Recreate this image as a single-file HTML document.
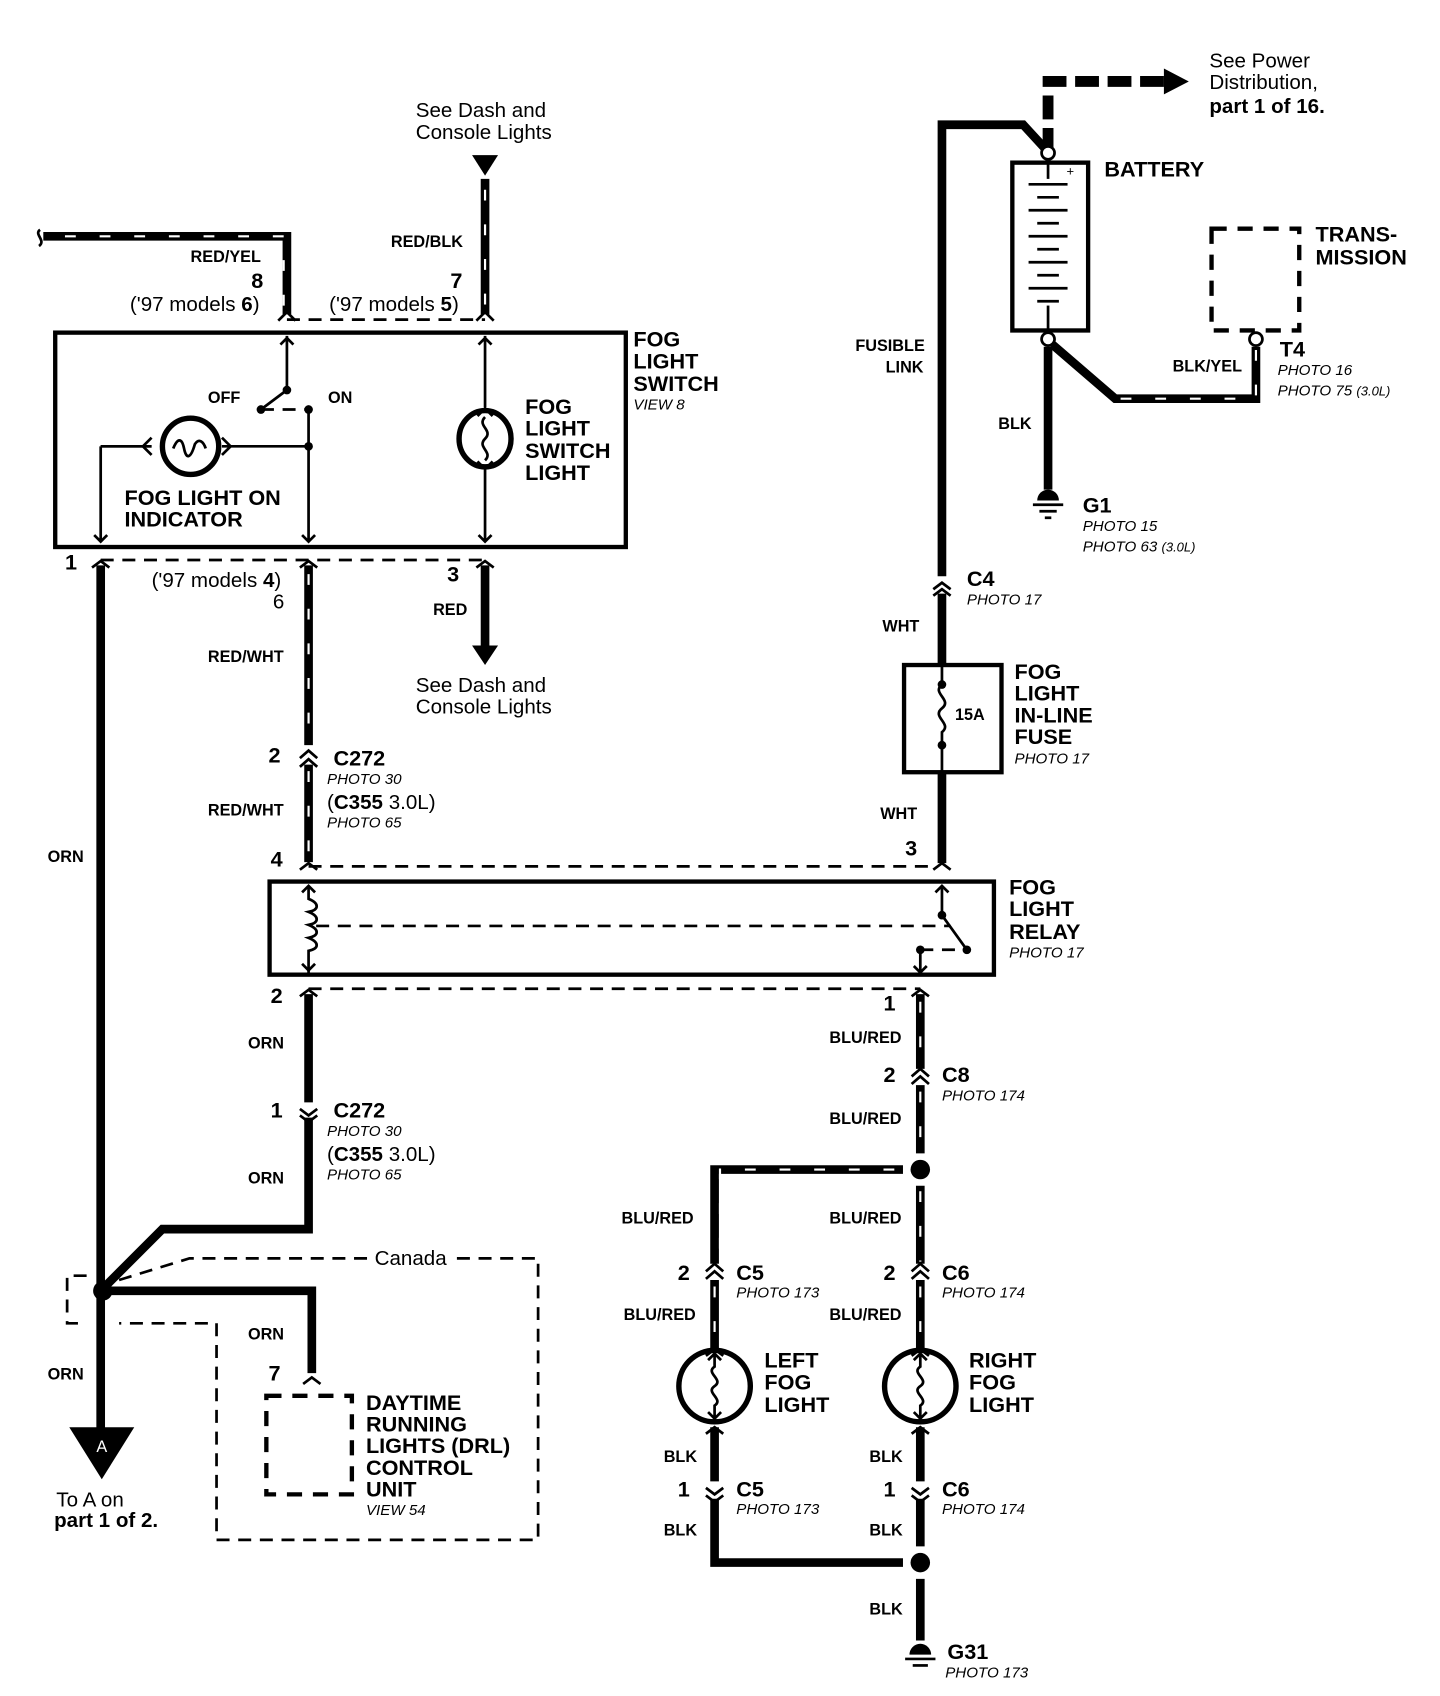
<!DOCTYPE html>
<html><head><meta charset="utf-8"><style>
html,body{margin:0;padding:0;background:#fff}
svg{display:block}
text{font-family:"Liberation Sans",sans-serif;fill:#000}
.b{font-weight:bold;font-size:15px}
.L{font-weight:bold;font-size:20px}
.p{font-style:italic;font-size:14px}
.r{font-size:19px}
.w{stroke:#000;stroke-width:8;fill:none}
.s{stroke:#fff;stroke-width:2;fill:none;stroke-dasharray:10 22}
.t{stroke:#000;stroke-width:2.5;fill:none}
.d{stroke:#000;stroke-width:2.5;fill:none;stroke-dasharray:12 8}
.bx{stroke:#000;stroke-width:4;fill:none}
</style></head><body>
<svg width="1440" height="1696" viewBox="0 0 1330 1566" xmlns="http://www.w3.org/2000/svg">
<!-- top right power arrow -->
<path d="M968 140 V75 H1075" stroke="#000" stroke-width="10" fill="none" stroke-dasharray="22 8"/>
<polygon points="1075,63 1098,75 1075,87" fill="#000"/>
<text x="1117" y="62" class="r">See Power</text>
<text x="1117" y="82" class="r">Distribution,</text>
<text x="1117" y="104" class="r" font-weight="bold">part 1 of 16.</text>
<!-- BLK fusible link wire -->
<path d="M870 532 V115 H945 L968 140" class="w"/>
<circle cx="968" cy="141" r="6" fill="#fff" stroke="#000" stroke-width="2.5"/>
<text x="790" y="324" class="b" font-size="14">FUSIBLE</text>
<text x="818" y="344" class="b" font-size="14">LINK</text>
<!-- battery -->
<rect x="935" y="150" width="70" height="155" class="bx"/>
<g class="t">
<line x1="968" y1="150" x2="968" y2="165"/>
<line x1="950" y1="170" x2="986" y2="170"/><line x1="958" y1="182" x2="978" y2="182"/>
<line x1="950" y1="194" x2="986" y2="194"/><line x1="958" y1="206" x2="978" y2="206"/>
<line x1="950" y1="218" x2="986" y2="218"/><line x1="958" y1="230" x2="978" y2="230"/>
<line x1="950" y1="242" x2="986" y2="242"/><line x1="958" y1="254" x2="978" y2="254"/>
<line x1="950" y1="266" x2="986" y2="266"/><line x1="958" y1="278" x2="978" y2="278"/>
<line x1="968" y1="282" x2="968" y2="305"/>
</g>
<text x="985" y="162" font-size="12">+</text>
<text x="1020" y="163" class="L" font-size="19">BATTERY</text>
<circle cx="968" cy="313" r="6" fill="#fff" stroke="#000" stroke-width="2.5"/>
<path d="M968 320 V452" class="w"/>
<text x="922" y="396" class="b">BLK</text>
<path d="M958 462 a10 10 0 0 1 20 0 z" fill="#000"/>
<line x1="954" y1="466" x2="982" y2="466" class="t"/>
<line x1="960" y1="472" x2="976" y2="472" class="t"/>
<line x1="965" y1="478" x2="971" y2="478" class="t"/>
<text x="1000" y="473" class="L" font-size="18">G1</text>
<text x="1000" y="490" class="p">PHOTO 15</text>
<text x="1000" y="509" class="p">PHOTO 63 <tspan font-size="12">(3.0L)</tspan></text>
<path d="M972 318 L1030 368 H1160 V320" class="w"/>
<path d="M1035 368 H1160 V320" class="s"/>
<circle cx="1160" cy="313" r="6" fill="#fff" stroke="#000" stroke-width="2.5"/>
<text x="1083" y="343" class="b">BLK/YEL</text>
<text x="1182" y="329" class="L" font-size="18">T4</text>
<text x="1180" y="346" class="p">PHOTO 16</text>
<text x="1180" y="365" class="p">PHOTO 75 <tspan font-size="12">(3.0L)</tspan></text>
<rect x="1119" y="211" width="81" height="94" stroke="#000" stroke-width="4" fill="none" stroke-dasharray="14 10"/>
<text x="1215" y="223" class="L" font-size="19">TRANS-</text>
<text x="1215" y="244" class="L" font-size="19">MISSION</text>
<!-- C4, fuse -->
<path d="M862 544 l8 -6 l8 6 M862 550 l8 -6 l8 6" class="t"/>
<path d="M870 548 V614" class="w"/>
<text x="893" y="541" class="L" font-size="18">C4</text>
<text x="893" y="558" class="p">PHOTO 17</text>
<text x="815" y="583" class="b">WHT</text>
<rect x="835" y="614" width="90" height="99" class="bx"/>
<path d="M870 614 V632 c-10 8 10 14 0 22 c-10 8 10 14 0 22 V713" class="t"/>
<circle cx="870" cy="632" r="4"/><circle cx="870" cy="688" r="4"/>
<text x="882" y="665" class="b" font-size="13">15A</text>
<text x="937" y="627" class="L" font-size="19">FOG</text>
<text x="937" y="647" class="L" font-size="19">LIGHT</text>
<text x="937" y="667" class="L" font-size="19">IN-LINE</text>
<text x="937" y="687" class="L" font-size="19">FUSE</text>
<text x="937" y="705" class="p">PHOTO 17</text>
<path d="M870 713 V797" class="w"/>
<text x="813" y="756" class="b">WHT</text>
<text x="836" y="790" class="L" font-size="18">3</text>
<path d="M862 803 l8 -6 l8 6" class="t"/>
<!-- relay -->
<line x1="285" y1="800" x2="862" y2="800" class="d"/>
<rect x="249" y="814" width="669" height="86" class="bx"/>
<path d="M285 818 V830 c10 4 10 10 0 12 c10 4 10 10 0 12 c10 4 10 10 0 12 c10 4 10 10 0 12 V898" class="t"/>
<path d="M279 824 l6 -6 l6 6 M279 890 l6 6 l6 -6" class="t"/>
<line x1="292" y1="855" x2="878" y2="855" class="d"/>
<path d="M870 818 V845 L893 877" class="t"/><path d="M864 824 l6 -6 l6 6 M844 892 l6 6 l6 -6" class="t"/>
<circle cx="870" cy="845" r="4"/><circle cx="893" cy="877" r="4"/><circle cx="850" cy="877" r="4"/>
<path d="M850 877 H890" class="d"/><line x1="850" y1="877" x2="850" y2="898" class="t"/>
<text x="932" y="826" class="L" font-size="19">FOG</text>
<text x="932" y="846" class="L" font-size="19">LIGHT</text>
<text x="932" y="867" class="L" font-size="19">RELAY</text>
<text x="932" y="884" class="p">PHOTO 17</text>
<line x1="285" y1="913" x2="850" y2="913" class="d"/>
<!-- fog switch -->
<rect x="51" y="307" width="527" height="198" class="bx"/>
<line x1="265" y1="295" x2="448" y2="295" class="d"/>
<line x1="93" y1="517" x2="448" y2="517" class="d"/>
<path d="M40 218 H265 V290" class="w"/><path d="M60 218 H262 V288" class="s"/>
<path d="M37 212 c-6 4 6 10 -1 15" class="t"/>
<path d="M257 296 l8 -8 l8 8" class="t"/>
<text x="176" y="242" class="b">RED/YEL</text>
<text x="232" y="266" class="L" font-size="17">8</text>
<text x="120" y="287" class="r">('97 models <tspan font-weight="bold">6</tspan>)</text>
<polygon points="436,143 460,143 448,162" fill="#000"/>
<path d="M448 165 V290" class="w"/><path d="M448 175 V288" class="s"/>
<path d="M440 296 l8 -8 l8 8" class="t"/>
<text x="384" y="108" class="r">See Dash and</text>
<text x="384" y="128" class="r">Console Lights</text>
<text x="361" y="228" class="b">RED/BLK</text>
<text x="416" y="266" class="L" font-size="17">7</text>
<text x="304" y="287" class="r">('97 models <tspan font-weight="bold">5</tspan>)</text>
<!-- inside switch -->
<path d="M265 310 V360 L241 378" class="t"/><path d="M259 318 l6 -6 l6 6" class="t"/>
<circle cx="265" cy="360" r="4"/><circle cx="241" cy="378" r="4"/><circle cx="285" cy="378" r="4"/>
<path d="M241 378 H285" class="d"/>
<path d="M285 378 V500 M279 494 l6 6 l6 -6" class="t"/>
<circle cx="285" cy="412" r="4"/>
<text x="192" y="372" class="b">OFF</text><text x="303" y="372" class="b">ON</text>
<path d="M285 412 H205 M93 412 H140 V412 M93 412 V500 M87 494 l6 6 l6 -6" class="t"/>
<path d="M93 412 H140 M140 404 l-8 8 l8 8 M205 404 l8 8 l-8 8" class="t"/>
<circle cx="176" cy="412" r="26" fill="none" stroke="#000" stroke-width="5"/>
<path d="M160 414 c4 -10 8 -10 10 0 c2 10 6 10 10 -4 c4 -6 8 -2 10 4" class="t"/>
<text x="115" y="466" class="L" font-size="19">FOG LIGHT ON</text>
<text x="115" y="486" class="L" font-size="19">INDICATOR</text>
<path d="M448 310 V376 M442 318 l6 -6 l6 6 M441 384 l7 -7 l7 7" class="t"/>
<ellipse cx="448" cy="405" rx="24" ry="26" fill="none" stroke="#000" stroke-width="5"/>
<path d="M448 385 c-8 8 8 12 0 20 c-8 8 8 12 0 20" class="t"/>
<path d="M448 432 V500 M441 426 l7 7 l7 -7 M442 494 l6 6 l6 -6" class="t"/>
<text x="485" y="382" class="L" font-size="19">FOG</text>
<text x="485" y="402" class="L" font-size="19">LIGHT</text>
<text x="485" y="423" class="L" font-size="19">SWITCH</text>
<text x="485" y="443" class="L" font-size="19">LIGHT</text>
<text x="585" y="320" class="L" font-size="19">FOG</text>
<text x="585" y="340" class="L" font-size="19">LIGHT</text>
<text x="585" y="361" class="L" font-size="19">SWITCH</text>
<text x="585" y="378" class="p">VIEW 8</text>
<!-- below switch -->
<text x="60" y="526" class="L" font-size="17">1</text>
<text x="140" y="542" class="r">('97 models <tspan font-weight="bold">4</tspan>)</text>
<text x="252" y="562" class="r" font-size="17">6</text>
<text x="413" y="537" class="L" font-size="17">3</text>
<path d="M85 524 l8 -6 l8 6 M277 524 l8 -6 l8 6 M440 524 l8 -6 l8 6" class="t"/>
<path d="M448 522 V600" class="w"/><polygon points="436,596 460,596 448,614" fill="#000"/>
<text x="400" y="568" class="b">RED</text>
<text x="384" y="639" class="r">See Dash and</text>
<text x="384" y="659" class="r">Console Lights</text>
<!-- RED/WHT -->
<path d="M285 522 V688 M285 706 V796" class="w"/><path d="M285 530 V686 M285 712 V794" class="s"/>
<path d="M277 700 l8 -7 l8 7 M277 708 l8 -7 l8 7" class="t"/>
<path d="M277 803 l8 -6 l8 6" class="t"/>
<text x="192" y="611" class="b">RED/WHT</text>
<text x="192" y="753" class="b">RED/WHT</text>
<text x="248" y="704" class="L" font-size="17">2</text>
<text x="308" y="707" class="L" font-size="19">C272</text>
<text x="302" y="724" class="p">PHOTO 30</text>
<text x="302" y="747" class="r" font-size="18">(<tspan font-weight="bold">C355</tspan> 3.0L)</text>
<text x="302" y="764" class="p">PHOTO 65</text>
<text x="250" y="800" class="L" font-size="17">4</text>
<!-- ORN from relay -->
<path d="M285 918 V1018 M285 1032 V1135 H150 L95 1190" class="w"/>
<path d="M277 1024 l8 6 l8 -6 M277 1030 l8 6 l8 -6 M277 920 l8 -6 l8 6" class="t"/>
<text x="250" y="926" class="L" font-size="17">2</text>
<text x="229" y="968" class="b">ORN</text>
<text x="250" y="1032" class="L" font-size="17">1</text>
<text x="308" y="1032" class="L" font-size="19">C272</text>
<text x="302" y="1049" class="p">PHOTO 30</text>
<text x="302" y="1072" class="r" font-size="18">(<tspan font-weight="bold">C355</tspan> 3.0L)</text>
<text x="302" y="1089" class="p">PHOTO 65</text>
<text x="229" y="1093" class="b">ORN</text>
<!-- left ORN -->
<path d="M93 522 V1320" class="w"/>
<text x="44" y="796" class="b">ORN</text>
<text x="44" y="1274" class="b">ORN</text>
<circle cx="95" cy="1192" r="9" fill="#000"/>
<polygon points="64,1318 124,1318 94,1366" fill="#000"/>
<text x="94" y="1341" font-size="15" fill="#fff" style="fill:#fff" text-anchor="middle">A</text>
<text x="52" y="1391" class="r" font-size="18">To A  on</text>
<text x="50" y="1410" class="r" font-weight="bold" font-size="19">part 1 of 2.</text>
<!-- Canada dashed -->
<path d="M110 1182 L175 1162 H340 M422 1162 H497 V1422 H200 V1222 H110 M80 1178 H62 V1222 H80" class="d" stroke-width="2"/>
<text x="346" y="1168" class="r" font-size="18">Canada</text>
<path d="M95 1192 H288 V1268" class="w"/>
<path d="M280 1278 l8 -6 l8 6" class="t"/>
<text x="229" y="1237" class="b">ORN</text>
<text x="248" y="1275" class="L" font-size="17">7</text>
<rect x="246" y="1289" width="79" height="91" stroke="#000" stroke-width="4" fill="none" stroke-dasharray="14 10"/>
<text x="338" y="1302" class="L" font-size="19">DAYTIME</text>
<text x="338" y="1322" class="L" font-size="19">RUNNING</text>
<text x="338" y="1342" class="L" font-size="19">LIGHTS (DRL)</text>
<text x="338" y="1362" class="L" font-size="19">CONTROL</text>
<text x="338" y="1382" class="L" font-size="19">UNIT</text>
<text x="338" y="1399" class="p">VIEW 54</text>
<!-- BLU/RED -->
<path d="M850 918 V987 M850 1002 V1065" class="w"/><path d="M850 925 V985 M850 1008 V1062" class="s"/>
<path d="M842 920 l8 -6 l8 6 M842 994 l8 -7 l8 7 M842 1001 l8 -7 l8 7" class="t"/>
<text x="816" y="933" class="L" font-size="17">1</text>
<text x="766" y="963" class="b">BLU/RED</text>
<text x="816" y="999" class="L" font-size="17">2</text>
<text x="870" y="999" class="L" font-size="19">C8</text>
<text x="870" y="1016" class="p">PHOTO 174</text>
<text x="766" y="1038" class="b">BLU/RED</text>
<circle cx="850" cy="1080" r="9" fill="#000"/>
<path d="M834 1080 H660 V1167 M660 1182 V1245" class="w"/><path d="M826 1080 H665 V1165 M660 1188 V1243" class="s"/>
<path d="M850 1095 V1167 M850 1182 V1245" class="w"/><path d="M850 1100 V1165 M850 1188 V1243" class="s"/>
<path d="M652 1174 l8 -7 l8 7 M652 1181 l8 -7 l8 7 M842 1174 l8 -7 l8 7 M842 1181 l8 -7 l8 7" class="t"/>
<path d="M652 1252 l8 -6 l8 6 M842 1252 l8 -6 l8 6" class="t"/>
<text x="574" y="1130" class="b">BLU/RED</text>
<text x="766" y="1130" class="b">BLU/RED</text>
<text x="626" y="1182" class="L" font-size="17">2</text>
<text x="816" y="1182" class="L" font-size="17">2</text>
<text x="680" y="1182" class="L" font-size="19">C5</text>
<text x="680" y="1198" class="p">PHOTO 173</text>
<text x="870" y="1182" class="L" font-size="19">C6</text>
<text x="870" y="1198" class="p">PHOTO 174</text>
<text x="576" y="1219" class="b">BLU/RED</text>
<text x="766" y="1219" class="b">BLU/RED</text>
<!-- lamps -->
<g>
<circle cx="660" cy="1280" r="33" fill="none" stroke="#000" stroke-width="5"/>
<path d="M660 1250 V1262 c-9 6 9 12 0 18 c-9 6 9 12 0 18 V1310 M654 1256 l6 -6 l6 6 M654 1304 l6 6 l6 -6" class="t"/>
<circle cx="850" cy="1280" r="33" fill="none" stroke="#000" stroke-width="5"/>
<path d="M850 1250 V1262 c-9 6 9 12 0 18 c-9 6 9 12 0 18 V1310 M844 1256 l6 -6 l6 6 M844 1304 l6 6 l6 -6" class="t"/>
</g>
<text x="706" y="1263" class="L" font-size="19">LEFT</text>
<text x="706" y="1283" class="L" font-size="19">FOG</text>
<text x="706" y="1304" class="L" font-size="19">LIGHT</text>
<text x="895" y="1263" class="L" font-size="19">RIGHT</text>
<text x="895" y="1283" class="L" font-size="19">FOG</text>
<text x="895" y="1304" class="L" font-size="19">LIGHT</text>
<path d="M660 1318 V1368 M660 1384 V1443 H834 M850 1318 V1368 M850 1384 V1428 M850 1458 V1515" class="w"/>
<path d="M652 1324 l8 -6 l8 6 M842 1324 l8 -6 l8 6 M652 1374 l8 6 l8 -6 M652 1381 l8 6 l8 -6 M842 1374 l8 6 l8 -6 M842 1381 l8 6 l8 -6" class="t"/>
<circle cx="850" cy="1443" r="9" fill="#000"/>
<text x="613" y="1350" class="b">BLK</text><text x="803" y="1350" class="b">BLK</text>
<text x="626" y="1382" class="L" font-size="17">1</text><text x="816" y="1382" class="L" font-size="17">1</text>
<text x="680" y="1382" class="L" font-size="19">C5</text><text x="680" y="1398" class="p">PHOTO 173</text>
<text x="870" y="1382" class="L" font-size="19">C6</text><text x="870" y="1398" class="p">PHOTO 174</text>
<text x="613" y="1418" class="b">BLK</text><text x="803" y="1418" class="b">BLK</text>
<text x="803" y="1491" class="b">BLK</text>
<path d="M840 1528 a10 10 0 0 1 20 0 z" fill="#000"/>
<line x1="836" y1="1532" x2="864" y2="1532" class="t"/>
<line x1="843" y1="1538" x2="857" y2="1538" class="t"/>
<text x="875" y="1532" class="L" font-size="18">G31</text>
<text x="873" y="1549" class="p">PHOTO 173</text>
</svg>
</body></html>
